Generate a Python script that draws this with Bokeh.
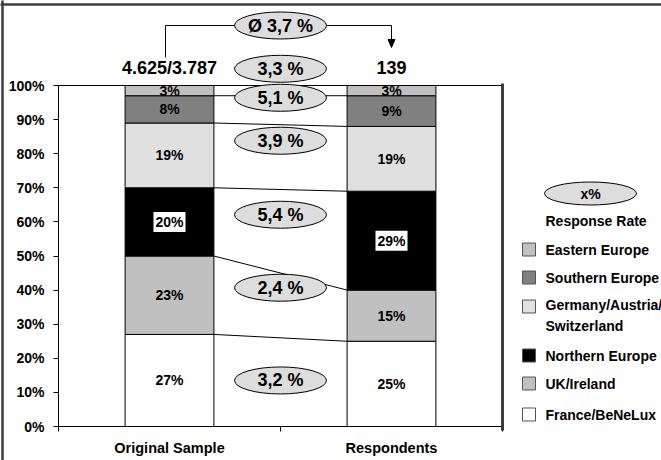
from bokeh.plotting import figure
from bokeh.models import ColumnDataSource, Range1d, LinearAxis, FixedTicker, PrintfTickFormatter
from bokeh.core.properties import value
from bokeh.embed import file_html
from bokeh.resources import INLINE

# ---------------- data ----------------
groups = ["Original Sample", "Respondents"]
sample_sizes = ["4.625/3.787", "139"]

regions = ["France/BeNeLux", "UK/Ireland", "Northern Europe",
           "Germany/Austria/Switzerland", "Southern Europe", "Eastern Europe"]
legend_labels = ["France/BeNeLux", "UK/Ireland", "Northern Europe",
                 "Germany/Austria/\nSwitzerland", "Southern Europe", "Eastern Europe"]
original_share = [27, 23, 20, 19, 8, 3]
respondent_share = [25, 15, 29, 19, 9, 3]
response_rate = [3.2, 2.4, 5.4, 3.9, 5.1, 3.3]
average_rate = 3.7

colors = ["#FFFFFF", "#C0C0C0", "#000000", "#E0E0E0", "#808080", "#C0C0C0"]

# vertical placement (in %) of the response-rate bubbles between the bars
rate_label_y = [13.5, 40.7, 62.1, 83.8, 96.4, 104.9]

# ---------------- layout helpers ----------------
W, H = 661, 460
LEFT, RIGHT, TOP, BOTTOM = 58, 502, 85, 426
X_PER_PX = 2.0 / (RIGHT - LEFT)
Y_PER_PX = 100.0 / (BOTTOM - TOP)


def xd(px):
    return (px - LEFT) * X_PER_PX


def yd(py):
    return (BOTTOM - py) * Y_PER_PX


FONT = value("Liberation Sans")


def fmt_rate(v):
    return f"{v:.1f}".replace(".", ",") + " %"


p = figure(width=W, height=H, x_range=Range1d(0, 2), y_range=Range1d(0, 100),
           min_border_left=LEFT, min_border_right=W - RIGHT,
           min_border_top=TOP, min_border_bottom=H - BOTTOM,
           x_axis_type=None, y_axis_type=None,
           output_backend="svg", toolbar_location=None)
p.grid.visible = False
p.outline_line_color = None
p.background_fill_color = "white"
p.border_fill_color = "white"

# ---------------- axes ----------------
yaxis = LinearAxis(ticker=FixedTicker(ticks=list(range(0, 101, 10))),
                   formatter=PrintfTickFormatter(format="%d%%"))
yaxis.major_tick_out = 5
yaxis.major_tick_in = 0
yaxis.minor_tick_out = 0
yaxis.minor_tick_in = 0
yaxis.major_label_standoff = 9
yaxis.axis_line_color = "black"
yaxis.major_label_text_font = "Liberation Sans"
yaxis.major_label_text_font_style = "bold"
yaxis.major_label_text_font_size = "14px"
yaxis.major_label_text_color = "black"
p.add_layout(yaxis, "left")

centers = [i + 0.5 for i in range(len(groups))]
xaxis = LinearAxis(ticker=FixedTicker(ticks=centers,
                                      minor_ticks=list(range(len(groups) + 1))))
xaxis.major_label_overrides = {c: g for c, g in zip(centers, groups)}
xaxis.major_tick_line_color = None
xaxis.major_tick_out = 0
xaxis.minor_tick_out = 5
xaxis.minor_tick_in = 0
xaxis.major_label_standoff = 8
xaxis.major_label_text_font = "Liberation Sans"
xaxis.major_label_text_font_style = "bold"
xaxis.major_label_text_font_size = "14.5px"
xaxis.major_label_text_color = "black"
p.add_layout(xaxis, "below")

# ---------------- stacked bars ----------------
bar_width = 0.4
src = ColumnDataSource({"x": centers,
                        **{r: [o, s] for r, o, s in zip(regions, original_share, respondent_share)}})
p.vbar_stack(regions, x="x", width=bar_width, color=colors, line_color="black",
             line_width=1, source=src)


def stack_bounds(values):
    tops, acc = [], 0
    for v in values:
        acc += v
        tops.append(acc)
    bottoms = [t - v for t, v in zip(tops, values)]
    return bottoms, tops


# segment labels (white box behind the labels on black segments)
lbl = {"x": [], "y": [], "text": [], "bg": []}
group_tops = []
for c, shares in zip(centers, [original_share, respondent_share]):
    b, t = stack_bounds(shares)
    group_tops.append(t)
    for v, lo, hi, col in zip(shares, b, t, colors):
        lbl["x"].append(c)
        lbl["y"].append((lo + hi) / 2)
        lbl["text"].append(f"{v}%")
        lbl["bg"].append(1.0 if col == "#000000" else 0.0)
p.text(x="x", y="y", text="text", source=ColumnDataSource(lbl),
       text_align="center", text_baseline="middle",
       text_font=FONT, text_font_style="bold", text_font_size="14px",
       text_color="black", background_fill_color="white",
       background_fill_alpha="bg", padding=2)

# connectors between matching segment boundaries
half = bar_width / 2
n_inner = len(regions) - 1
p.segment(x0=[centers[0] + half] * n_inner, y0=group_tops[0][:n_inner],
          x1=[centers[1] - half] * n_inner, y1=group_tops[1][:n_inner],
          line_color="black", line_width=1)

overlay = []
# frame lines: thin top edge, heavy right edge
overlay.append(p.segment(x0=[0], y0=[100], x1=[2], y1=[100], line_color="black", line_width=1))
overlay.append(p.segment(x0=[2], y0=[100.6], x1=[2], y1=[yd(430)],
                         line_color="#3c3c3c", line_width=3))

# outer chart border (top and left)
overlay.append(p.segment(x0=[xd(0), xd(2)], y0=[yd(4), yd(0)], x1=[xd(W), xd(2)], y1=[yd(4), yd(H)],
                         line_color="#3c3c3c", line_width=2.5))

# response-rate bubbles
mid_x = sum(centers) / 2
overlay.append(p.ellipse(x=[mid_x] * len(response_rate), y=rate_label_y,
                         width=92, height=27, width_units="screen", height_units="screen",
                         fill_color="#DDDDDD", line_color="black", line_width=1))
overlay.append(p.text(x=[mid_x] * len(response_rate), y=rate_label_y,
                      text=[fmt_rate(v) for v in response_rate],
                      text_align="center", text_baseline="middle",
                      text_font=FONT, text_font_style="bold", text_font_size="18px",
                      text_color="black"))

# sample sizes above the bars
overlay.append(p.text(x=centers, y=[yd(67)] * 2, text=sample_sizes,
                      text_align="center", text_baseline="middle",
                      text_font=FONT, text_font_style="bold", text_font_size="18px",
                      text_color="black"))

# average response-rate bracket with arrow into the respondents column
bx0, bx1 = xd(165), centers[1]
by = yd(25)
overlay.append(p.line(x=[bx0, bx0, bx1, bx1], y=[yd(57), by, by, yd(40)],
                      line_color="black", line_width=1))
head_w = 3.5 * X_PER_PX
overlay.append(p.patch(x=[bx1 - head_w, bx1 + head_w, bx1], y=[yd(39), yd(39), yd(47)],
                       fill_color="black", line_color="black", line_width=1))
overlay.append(p.ellipse(x=[mid_x], y=[by], width=92, height=27,
                         width_units="screen", height_units="screen",
                         fill_color="#DDDDDD", line_color="black", line_width=1))
overlay.append(p.text(x=[mid_x], y=[by], text=["Ø " + fmt_rate(average_rate)],
                      text_align="center", text_baseline="middle",
                      text_font=FONT, text_font_style="bold", text_font_size="18px",
                      text_color="black"))

# ---------------- legend ----------------
overlay.append(p.ellipse(x=[xd(590)], y=[yd(193)], width=92, height=23,
                         width_units="screen", height_units="screen",
                         fill_color="#DDDDDD", line_color="black", line_width=1))
overlay.append(p.text(x=[xd(590)], y=[yd(193)], text=["x%"],
                      text_align="center", text_baseline="middle",
                      text_font=FONT, text_font_style="bold", text_font_size="14px",
                      text_color="black"))
overlay.append(p.text(x=[xd(545)], y=[yd(220)], text=["Response Rate"],
                      text_align="left", text_baseline="middle",
                      text_font=FONT, text_font_style="bold", text_font_size="14px",
                      text_color="black"))

# rows listed bottom-up (same order as the stack)
swatch_row_px = [414, 383, 355, 306, 277, 249]
label_row_px = [414, 383, 355, 315, 277, 249]
overlay.append(p.rect(x=[xd(528.5)] * len(regions), y=[yd(v) for v in swatch_row_px],
                      width=13, height=13, width_units="screen", height_units="screen",
                      fill_color=colors, line_color="#555555", line_width=1))
overlay.append(p.text(x=[xd(545)] * len(regions), y=[yd(v) for v in label_row_px],
                      text=legend_labels, text_align="left", text_baseline="middle",
                      text_line_height=1.3,
                      text_font=FONT, text_font_style="bold", text_font_size="14px",
                      text_color="black"))

for r in overlay:
    r.level = "overlay"

open("out.html", "w").write(file_html(p, INLINE))
